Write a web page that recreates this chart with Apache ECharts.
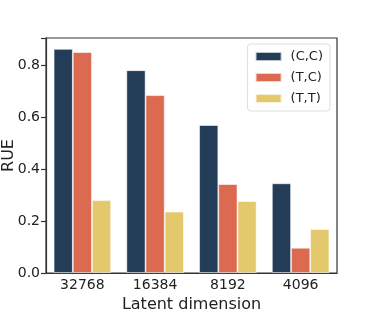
<!DOCTYPE html>
<html><head><meta charset="utf-8">
<script src="https://cdn.jsdelivr.net/npm/echarts@6/dist/echarts.min.js"></script>
<style>html,body{margin:0;padding:0;background:#fff}#c{width:374px;height:312px}</style>
</head><body><div id="c"></div>
<script>
const categories = ['32768', '16384', '8192', '4096'];
const seriesNames = ['(C,C)', '(T,C)', '(T,T)'];
const valsCC = [0.862, 0.780, 0.569, 0.345];
const valsTC = [0.850, 0.684, 0.342, 0.097];
const valsTT = [0.280, 0.236, 0.277, 0.169];
const yTicks = [0, 0.2, 0.4, 0.6, 0.8];
const colors = ['#233d58', '#dc6a50', '#e4c96c'];

const chart = echarts.init(document.getElementById('c'), null, {renderer: 'canvas'});
const font = 'DejaVu Sans';
const allVals = [valsCC, valsTC, valsTT];
chart.setOption({
  animation: false,
  color: colors,
  textStyle: {fontFamily: font},
  grid: {left: 46, right: 37, top: 38, bottom: 39, containLabel: false, outerBoundsMode: 'none',
    show: true, borderColor: '#333', borderWidth: 1.2, backgroundColor: 'transparent'},
  legend: {
    data: seriesNames, orient: 'vertical', right: 44, top: 44,
    itemWidth: 26, itemHeight: 9, itemGap: 8,
    padding: [6, 7, 6, 7],
    borderColor: '#ddd', borderWidth: 1, borderRadius: 3,
    backgroundColor: 'rgba(255,255,255,0.8)',
    icon: 'rect',
    textStyle: {fontFamily: font, fontSize: 13, color: '#222', padding: [0, 0, 0, 4]}
  },
  xAxis: {
    type: 'category', data: categories,
    name: 'Latent dimension', nameLocation: 'middle', nameGap: 24, nameMoveOverlap: false,
    nameTextStyle: {fontFamily: font, fontSize: 16, color: '#222'},
    axisLine: {lineStyle: {color: '#333', width: 1.2}},
    axisTick: {alignWithLabel: true, length: 4, lineStyle: {color: '#333', width: 1.2}},
    axisLabel: {fontFamily: font, fontSize: 14, color: '#222', margin: 5}
  },
  yAxis: {
    type: 'value', min: 0, max: 0.904, interval: 0.2,
    name: 'RUE', nameLocation: 'middle', nameGap: 29, nameMoveOverlap: false,
    nameTextStyle: {fontFamily: font, fontSize: 16, color: '#222'},
    axisLine: {show: true, lineStyle: {color: '#333', width: 1.2}},
    axisTick: {show: true, length: 5, lineStyle: {color: '#333', width: 1.2}},
    splitLine: {show: false},
    axisLabel: {fontFamily: font, fontSize: 14, color: '#222', margin: 6,
      formatter: v => yTicks.some(t => Math.abs(t - v) < 1e-6) ? v.toFixed(1) : ''}
  },
  series: seriesNames.map((n, i) => ({
    name: n, type: 'bar', data: allVals[i],
    barGap: '0%', barCategoryGap: '21%',
    itemStyle: {color: colors[i], borderColor: 'rgba(255,255,255,0.7)', borderWidth: 0.8}
  }))
});
</script></body></html>
